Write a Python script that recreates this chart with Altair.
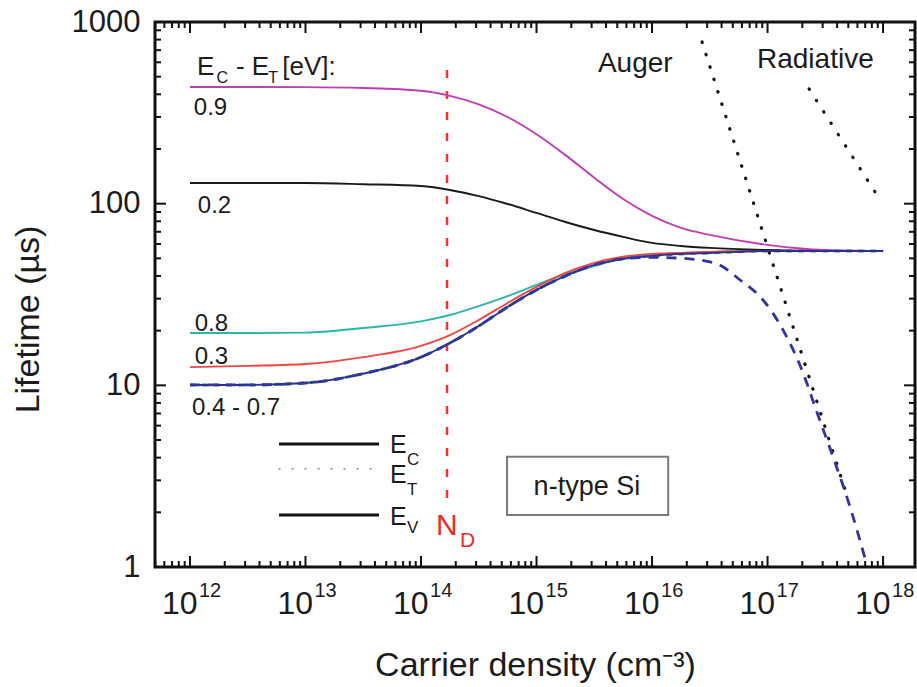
import altair as alt
import pandas as pd

FONT = "Liberation Sans"
W, H = 760, 545
INK = "#1c1c1c"

# ---------------- data ----------------
density = [1e12, 3.16e12, 1e13, 3.16e13, 1e14, 1.78e14, 3.16e14, 5.62e14, 1e15,
           1.78e15, 3.16e15, 5.62e15, 1e16, 1.78e16, 3.16e16, 1e17, 3.16e17, 1e18]
tau_09 = [439, 439, 438, 433, 418, 392, 352, 300, 241, 185, 139, 106, 85.6, 73.5, 67.3, 59.3, 55.6, 54.9]
tau_02 = [130, 130, 130, 128, 125, 119, 110, 99.6, 88.9, 79.3, 71.6, 65.6, 60.8, 58.5, 57.1, 55.6, 54.9, 54.9]
tau_08 = [19.4, 19.4, 19.5, 20.7, 22.5, 24.4, 27.3, 31.0, 35.7, 41.0, 45.4, 50.2, 52.2, 53.5, 54.2, 54.9, 54.9, 54.9]
tau_03 = [12.6, 12.8, 13.1, 14.3, 16.5, 18.9, 22.9, 28.4, 34.8, 41.6, 47.2, 51.0, 52.9, 53.5, 54.2, 54.9, 54.9, 54.9]
tau_0407 = [10.05, 10.05, 10.3, 11.6, 14.3, 17.1, 21.2, 27.0, 33.5, 40.0, 46.0, 49.7, 51.6, 52.9, 53.5, 54.9, 54.9, 54.9]

# total lifetime incl. Auger (dashed blue)
density_tot = [1e12, 3.16e12, 1e13, 3.16e13, 1e14, 1.78e14, 3.16e14, 5.62e14, 1e15, 1.78e15,
               3.16e15, 5.62e15, 1e16, 1.85e16, 3.66e16, 5.78e16, 9.14e16, 1.36e17, 2.03e17,
               2.69e17, 3.69e17, 5.18e17, 7.26e17]
tau_tot = [10.05, 10.05, 10.3, 11.6, 14.3, 17.1, 21.2, 27.0, 33.5, 40.0, 46.0, 49.7, 50.6,
           50.0, 46.6, 38.0, 29.5, 20.2, 11.7, 7.05, 4.04, 2.14, 1.02]

auger_n = [2.71e16, 4.69e17]
auger_tau = [776, 2.66]
rad_n = [2.29e17, 9.42e17]
rad_tau = [428, 105]

nd_value = 1.68e14
nd_tau = [545, 2.25]

series_names = ["0.9", "0.2", "0.8", "0.3", "0.4 - 0.7"]
series_colors = ["#c23cb4", "#1a1a1a", "#2cb5aa", "#f2453f", "#2e2e96"]

x_major = [1e12, 1e13, 1e14, 1e15, 1e16, 1e17, 1e18]
exponents = ["12", "13", "14", "15", "16", "17", "18"]
y_major = [1, 10, 100, 1000]

XMIN, XMAX = 4.98e11, 1.89e18
x_minor = [m * 10.0 ** k for k in range(11, 19) for m in range(2, 10) if XMIN <= m * 10.0 ** k <= XMAX]
y_minor = [m * 10.0 ** k for k in range(0, 3) for m in range(2, 10)]

# annotation texts (left aligned)
txt = ["E", "C", "- E", "T", "[eV]:", "0.9", "0.2", "0.8", "0.3", "0.4 - 0.7",
       "E", "C", "E", "T", "E", "V", "Auger", "Radiative", "N", "D"]
txt_x = [1.15e12, 1.70e12, 2.5e12, 4.75e12, 6.3e12, 1.08e12, 1.17e12, 1.1e12, 1.1e12, 1.04e12,
         5.4e13, 7.57e13, 5.4e13, 7.57e13, 5.4e13, 7.57e13, 3.4e15, 8.1e16, 1.35e14, 2.18e14]
txt_y = [511, 461, 511, 461, 511, 308, 88.9, 19.9, 13.1, 6.87,
         4.25, 3.65, 2.90, 2.50, 1.71, 1.54, 531, 558, 1.50, 1.29]
txt_size = [26, 16, 26, 16, 26, 24, 24, 24, 24, 24,
            25, 17, 25, 17, 25, 17, 28, 28, 30, 21]
txt_color = [INK] * 18 + ["#ee2a2a", "#ee2a2a"]

legend_x = [5.9e12, 4.33e13]
legend_x_dot = [5.9e12, 3.77e13]
legend_y = [4.76, 3.47, 1.935]

box_x = [5.56e14, 1.38e16]
box_y = [4.04, 1.935]
box_text = "n-type Si"
box_text_pos = [2.73e15, 2.50]

# ---------------- build tables ----------------
rows = []
for name, vals in zip(series_names, [tau_09, tau_02, tau_08, tau_03, tau_0407]):
    for n, t in zip(density, vals):
        rows.append({"n": n, "tau": t, "series": name})
curves = pd.DataFrame(rows)
blue_df = pd.DataFrame({"n": density, "tau": tau_0407})
tot_df = pd.DataFrame({"n": density_tot, "tau": tau_tot})
auger_df = pd.DataFrame({"n": auger_n, "tau": auger_tau})
rad_df = pd.DataFrame({"n": rad_n, "tau": rad_tau})
nd_df = pd.DataFrame({"n": [nd_value, nd_value], "tau": nd_tau})
text_df = pd.DataFrame({"t": txt, "n": txt_x, "tau": txt_y, "fs": txt_size, "col": txt_color})
exp_df = pd.DataFrame({"n": x_major, "t": exponents})

xs = alt.Scale(type="log", domain=[XMIN, XMAX], nice=False)
ys = alt.Scale(type="log", domain=[1, 1000], nice=False)

x_axis = alt.Axis(values=x_major, labelExpr="'10'", grid=False, ticks=False, tickSize=0, domain=False,
                  labelFontSize=32, labelFont=FONT, labelColor=INK, labelFontWeight="normal",
                  labelAlign="right", labelOffset=7, labelBaseline="alphabetic", labelPadding=46,
                  labelOverlap=False, labelFlush=False,
                  title="Carrier density (cm⁻³)", titleFont=FONT, titleFontSize=34,
                  titleFontWeight="normal", titleColor=INK, titleX=W / 2, titleY=108,
                  titleAlign="center", titleBaseline="alphabetic")
y_axis = alt.Axis(values=y_major, format="d", grid=False, ticks=False, tickSize=0, domain=False,
                  labelFontSize=31, labelFont=FONT, labelColor=INK, labelFontWeight="normal",
                  labelPadding=15, labelBaseline="middle", labelOverlap=False, labelFlush=False,
                  title="Lifetime (µs)", titleFont=FONT, titleFontSize=34, titleFontWeight="normal",
                  titleColor=INK, titleX=-117, titleY=297, titleAngle=-90,
                  titleAlign="center", titleBaseline="alphabetic")

# every layer carries identical axis definitions so they merge into one
Xn = alt.X("n:Q", scale=xs, axis=x_axis)
Yn = alt.Y("tau:Q", scale=ys, axis=y_axis)

layers = []

# ticks (inward)
def xticks(vals, L):
    d = pd.DataFrame({"n": vals})
    b = alt.Chart(d).mark_rule(color="#111", strokeWidth=2).encode(
        x=Xn, y=alt.value(H), y2=alt.value(H - L))
    t = alt.Chart(d).mark_rule(color="#111", strokeWidth=2).encode(
        x=Xn, y=alt.value(0), y2=alt.value(L))
    return [b, t]

def yticks(vals, L):
    d = pd.DataFrame({"tau": vals})
    l = alt.Chart(d).mark_rule(color="#111", strokeWidth=2).encode(
        y=Yn, x=alt.value(0), x2=alt.value(L))
    r = alt.Chart(d).mark_rule(color="#111", strokeWidth=2).encode(
        y=Yn, x=alt.value(W), x2=alt.value(W - L))
    return [l, r]

layers += xticks(x_major, 11) + xticks(x_minor, 6) + yticks(y_major, 11) + yticks(y_minor, 6)

# n-type Si box
box_df = pd.DataFrame({"n": [box_x[0]], "n2": [box_x[1]], "tau": [box_y[0]], "tau2": [box_y[1]]})
layers.append(alt.Chart(box_df).mark_rect(fill="white", stroke="#7a7a7a", strokeWidth=2).encode(
    x=Xn, x2="n2:Q", y=Yn, y2="tau2:Q"))
layers.append(alt.Chart(pd.DataFrame({"n": [box_text_pos[0]], "tau": [box_text_pos[1]], "t": [box_text]}))
              .mark_text(font=FONT, fontSize=27, align="center", baseline="alphabetic", color=INK)
              .encode(x=Xn, y=Yn, text="t:N"))

# ND line
layers.append(alt.Chart(nd_df).mark_line(color="#ee3333", strokeWidth=2.5, strokeDash=[8, 13]).encode(x=Xn, y=Yn))

# Auger / radiative
layers.append(alt.Chart(auger_df).mark_line(color="#111", strokeWidth=3.2, strokeDash=[0.5, 12.5],
                                            strokeCap="round", clip=True).encode(x=Xn, y=Yn))
layers.append(alt.Chart(rad_df).mark_line(color="#111", strokeWidth=3.2, strokeDash=[0.5, 13],
                                          strokeCap="round", clip=True).encode(x=Xn, y=Yn))

# green curve under blue
layers.append(alt.Chart(blue_df).mark_line(color="#3a9a3a", strokeWidth=3, interpolate="monotone",
                                           strokeDash=[6, 6]).encode(x=Xn, y=Yn))
# main curves
layers.append(alt.Chart(curves).mark_line(strokeWidth=1.9, interpolate="monotone", clip=True).encode(
    x=Xn, y=Yn,
    color=alt.Color("series:N", scale=alt.Scale(domain=series_names, range=series_colors), legend=None),
    detail="series:N"))
# dashed total lifetime
layers.append(alt.Chart(tot_df).mark_line(color="#34349e", strokeWidth=2.8, strokeDash=[10, 8],
                                          interpolate="monotone", clip=True).encode(x=Xn, y=Yn))

# legend lines E_C, E_T, E_V
lg = pd.DataFrame({"n": [legend_x[0], legend_x[1]], "tau": [legend_y[0]] * 2})
layers.append(alt.Chart(lg).mark_line(color="#111", strokeWidth=3).encode(x=Xn, y=Yn))
lg2 = pd.DataFrame({"n": [legend_x_dot[0], legend_x_dot[1]], "tau": [legend_y[1]] * 2})
layers.append(alt.Chart(lg2).mark_line(color="#999", strokeWidth=1.6, strokeDash=[1, 12],
                                       strokeCap="round").encode(x=Xn, y=Yn))
lg3 = pd.DataFrame({"n": [legend_x[0], legend_x[1]], "tau": [legend_y[2]] * 2})
layers.append(alt.Chart(lg3).mark_line(color="#111", strokeWidth=3).encode(x=Xn, y=Yn))

# annotation texts
layers.append(alt.Chart(text_df).mark_text(font=FONT, align="left", baseline="alphabetic").encode(
    x=Xn, y=Yn, text="t:N", size=alt.Size("fs:Q", scale=None),
    color=alt.Color("col:N", scale=None)))

# exponents of x tick labels
layers.append(alt.Chart(exp_df).mark_text(font=FONT, fontSize=20, align="left", baseline="alphabetic",
                                          dx=9, color=INK).encode(
    x=Xn, y=alt.value(H + 30), text="t:N"))

chart = alt.layer(*layers).properties(
    width=W, height=H,
    autosize=alt.AutoSizeParams(type="none"),
    padding={"left": 155, "top": 22, "right": 2, "bottom": 120},
    background="white",
).configure_view(stroke="#111", strokeWidth=3).configure_text(font=FONT)

chart.save("out.html", embed_options={"renderer": "svg", "actions": False})
